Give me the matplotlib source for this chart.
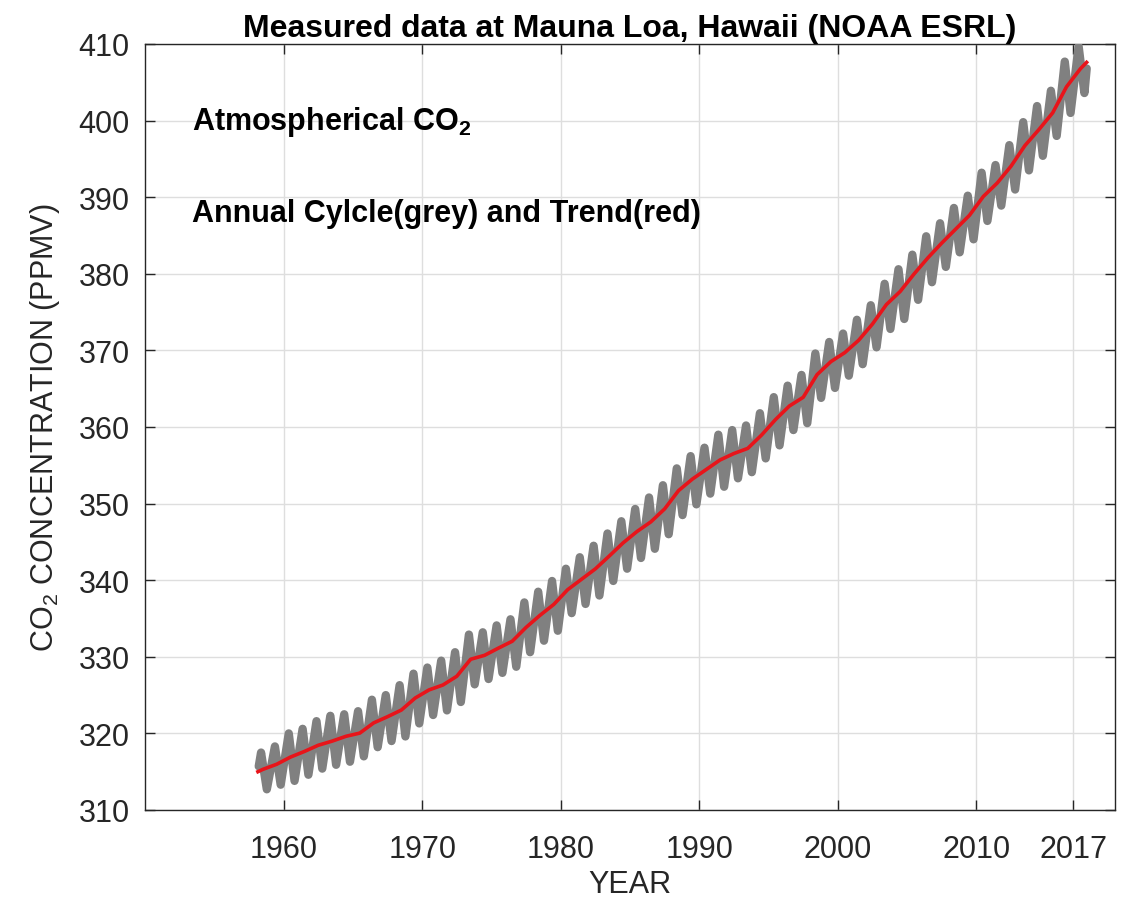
import matplotlib
matplotlib.use("Agg")
import matplotlib.pyplot as plt
import numpy as np

plt.rcParams['font.family'] = ['Liberation Sans', 'DejaVu Sans']
plt.rcParams['mathtext.fontset'] = 'custom'
plt.rcParams['mathtext.rm'] = 'Liberation Sans'
plt.rcParams['mathtext.bf'] = 'Liberation Sans:bold'
plt.rcParams['mathtext.default'] = 'rm'

# ---------------- data ----------------
years = list(range(1958, 2018))
annual_mean = [315.3, 315.97, 316.91, 317.64, 318.45, 318.99, 319.62, 320.04, 321.37, 322.18,
               323.05, 324.62, 325.68, 326.32, 327.46, 329.68, 330.19, 331.13, 332.03, 333.84,
               335.41, 336.84, 338.76, 340.12, 341.48, 343.15, 344.87, 346.35, 347.61, 349.31,
               351.69, 353.20, 354.45, 355.70, 356.54, 357.21, 358.96, 360.97, 362.74, 363.88,
               366.84, 368.54, 369.71, 371.32, 373.45, 375.98, 377.70, 379.98, 382.09, 384.02,
               385.83, 387.64, 390.10, 391.85, 394.06, 396.74, 398.81, 401.01, 404.41, 406.76]
# seasonal maximum (May) and minimum (Sep/Oct) of the monthly record
season_max = [317.5, 318.3, 320.0, 320.6, 321.6, 322.3, 322.5, 322.9, 324.4, 325.0,
              326.3, 327.8, 328.6, 329.5, 330.6, 332.9, 333.2, 334.1, 334.9, 337.1,
              338.5, 339.9, 341.5, 343.0, 344.5, 346.1, 347.7, 349.3, 350.8, 352.4,
              354.6, 356.2, 357.3, 359.0, 359.6, 360.2, 361.8, 363.9, 365.4, 366.8,
              369.6, 371.1, 372.2, 374.0, 375.9, 378.7, 380.6, 382.5, 384.9, 386.6,
              388.6, 390.2, 393.2, 394.2, 396.8, 399.8, 401.9, 403.9, 407.7, 409.7]
season_min = [312.7, 313.3, 313.8, 314.6, 315.4, 315.9, 316.3, 317.0, 318.2, 319.0,
              319.6, 321.3, 322.4, 323.0, 324.1, 326.4, 327.1, 327.9, 328.7, 330.6,
              332.1, 333.4, 335.7, 336.9, 338.0, 339.9, 341.5, 342.9, 344.1, 346.0,
              348.5, 349.9, 351.3, 352.2, 353.3, 354.1, 355.9, 357.6, 359.6, 360.5,
              363.8, 365.1, 366.7, 368.2, 370.4, 372.8, 374.1, 376.6, 378.9, 380.9,
              382.8, 384.5, 386.9, 388.9, 391.0, 393.5, 395.4, 398.0, 401.0, 403.6]
peak_month = 5
trough_month = 10
first_obs = (1958, 3, 315.7)   # year, month, ppm
last_obs = (2017, 12, 406.8)
trend_start = (1958.15, 315.0)
trend_end = (2017.95, 407.6)

xticks = [1960, 1970, 1980, 1990, 2000, 2010, 2017]
yticks = list(range(310, 411, 10))

# ---------------- build series ----------------
gx = [first_obs[0] + (first_obs[1] - 0.5) / 12]
gy = [first_obs[2]]
for y, mx, mn in zip(years, season_max, season_min):
    gx += [y + (peak_month - 0.5) / 12, y + (trough_month - 0.5) / 12]
    gy += [mx, mn]
gx.append(last_obs[0] + (last_obs[1] - 0.5) / 12)
gy.append(last_obs[2])

tx = [trend_start[0]] + [y + 0.5 for y in years] + [trend_end[0]]
ty = [trend_start[1]] + annual_mean + [trend_end[1]]

# ---------------- figure ----------------
fig = plt.figure(figsize=(11.25, 9.03), dpi=100)
ax = fig.add_axes([145 / 1125, 92 / 903, 970 / 1125, 766 / 903])

dark = '#262626'
ax.plot(gx, gy, color='#808080', lw=6.0, solid_joinstyle='round', solid_capstyle='round', zorder=3)
ax.plot(tx, ty, color='#e8141a', lw=2.6, zorder=4)

ax.set_xlim(1950, 2020)
ax.set_ylim(310, 410)
ax.set_xticks(xticks)
ax.set_yticks(yticks)
ax.grid(True, color='#dedede', lw=1.0, zorder=0)
ax.set_axisbelow(True)
ax.tick_params(direction='in', length=7, width=1.0, colors=dark, labelsize=22,
               top=True, right=True)
ax.tick_params(axis='x', pad=17)
ax.tick_params(axis='y', pad=11)
for s in ax.spines.values():
    s.set_color(dark)
    s.set_linewidth(1.0)

ax.set_title('Measured data at Mauna Loa, Hawaii (NOAA ESRL)', fontsize=23,
             fontweight='bold', color='black', pad=6)
ax.set_xlabel('YEAR', fontsize=22, color=dark, labelpad=4)
ax.set_ylabel('CO$_2$ CONCENTRATION (PPMV)', fontsize=22, color=dark, labelpad=12)

ax.text(1953.4, 400, 'Atmospherical CO$_\\mathbf{2}$', fontsize=22, fontweight='bold',
        va='center', ha='left', color='black')
ax.text(1953.4, 388, 'Annual Cylcle(grey) and Trend(red)', fontsize=22, fontweight='bold',
        va='center', ha='left', color='black')

fig.savefig('out.png', dpi=100)
